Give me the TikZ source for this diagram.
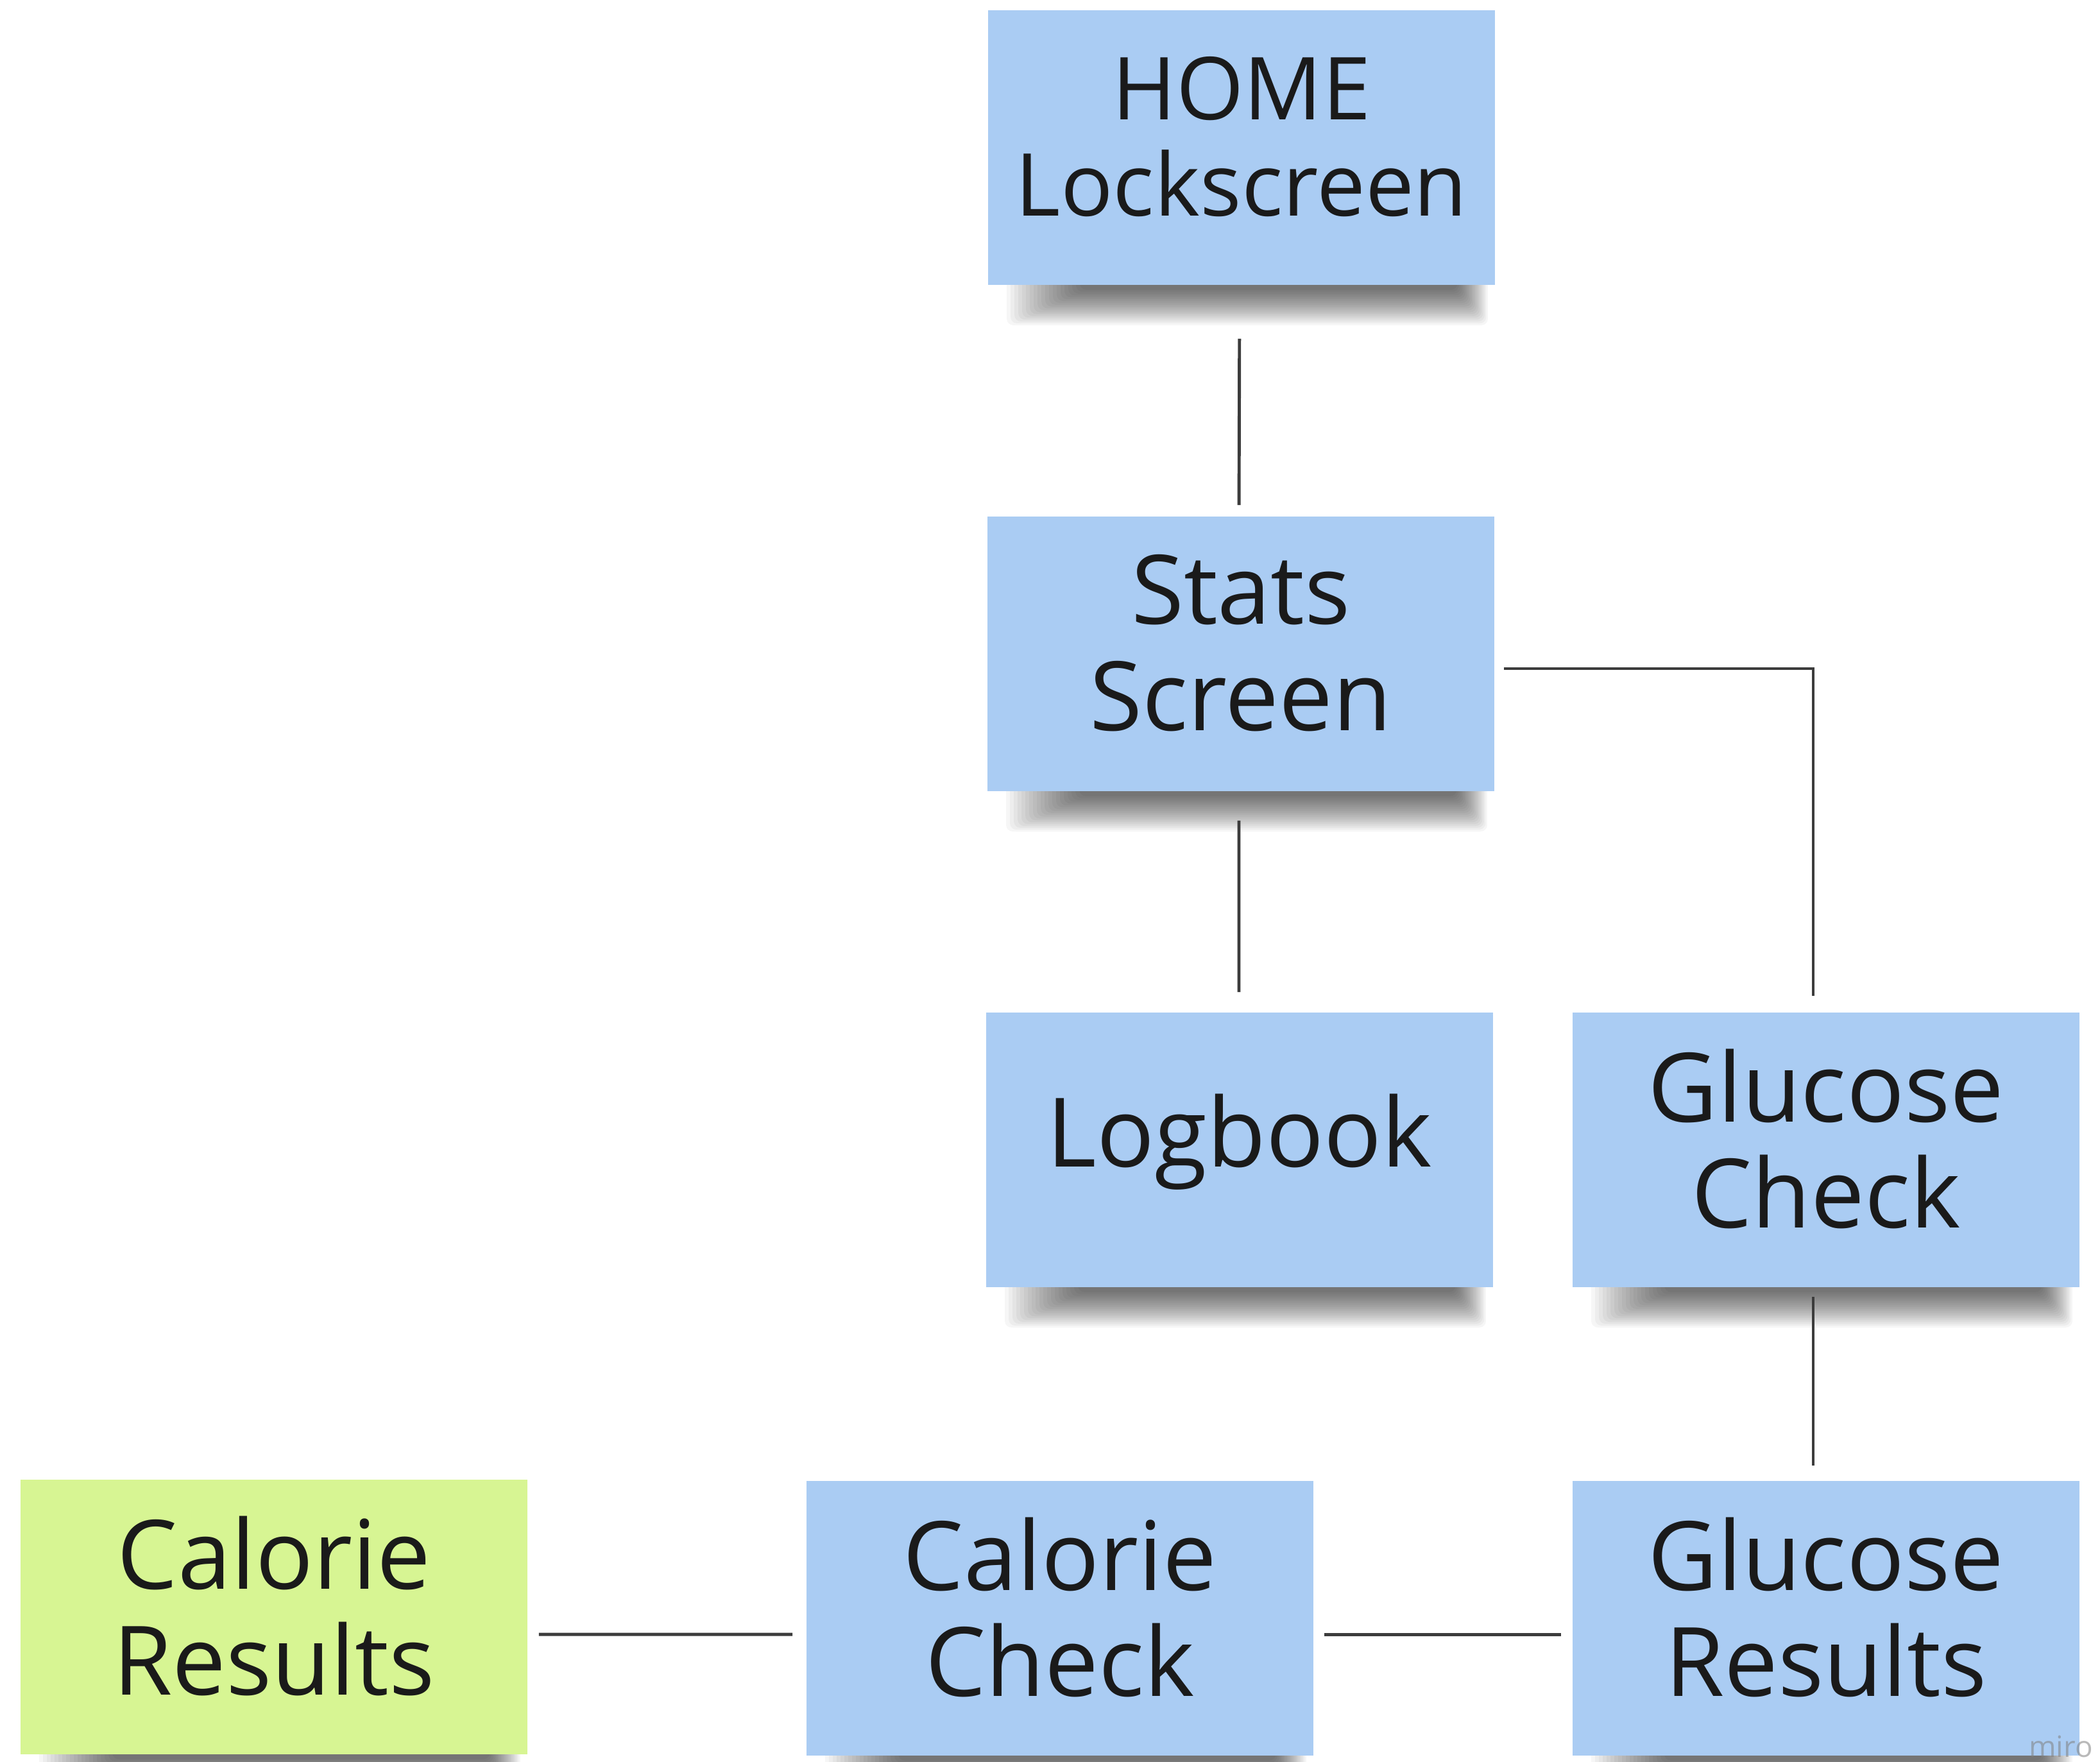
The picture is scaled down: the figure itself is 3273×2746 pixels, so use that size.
\documentclass[tikz,border=0pt]{standalone}
\usepackage{fontspec}
\setmainfont{Open Sans}
\usetikzlibrary{calc,backgrounds}
\definecolor{stickyblue}{HTML}{AACCF3}
\definecolor{stickygreen}{HTML}{D7F593}
\definecolor{linegray}{HTML}{3C3C3C}
\definecolor{txtcol}{HTML}{1A1A1A}
\newcommand\stickyshadow[1]{%
  \begin{pgfonlayer}{background}
    \foreach \i in {0,...,19}{%
      \fill[black, opacity=0.035, rounded corners=0.1cm]
        ($(#1.south west)+(30+\i*6,-12)$) rectangle ($(#1.south east)+(-12-\i*2.5,62-\i*2.9)$);
    }
  \end{pgfonlayer}}
\begin{document}
\begin{tikzpicture}[x=0.01cm, y=-0.01cm,
  sticky/.style={rectangle, fill=stickyblue, minimum width=7.9cm, minimum height=4.28cm, inner sep=0pt},
  greensticky/.style={sticky, fill=stickygreen},
  label/.style={align=center, text=txtcol, inner sep=0pt, font=\fontsize{42.5}{47}\selectfont},
  smalllabel/.style={label, font=\fontsize{38.5}{42.7}\selectfont},
  conn/.style={draw=linegray, line width=1.4pt}]
\useasboundingbox (0,0) rectangle (3273,2746);
\begin{pgfonlayer}{background}
\fill[white] (0,0) rectangle (3273,2746);
\end{pgfonlayer}

\node[sticky] (home)     at (1935,230)  {};
\node[sticky] (stats)    at (1934,1019) {};
\node[sticky] (logbook)  at (1932,1792) {};
\node[sticky] (gcheck)   at (2846,1792) {};
\node[greensticky] (cresults) at (427,2520)  {};
\node[sticky] (ccheck)   at (1652,2522) {};
\node[sticky] (gresults) at (2846,2522) {};

\node[smalllabel] (home-t)     at ([yshift=0.17cm]home.center)     {HOME\\Lockscreen};
\node[label]      (stats-t)    at ([yshift=0.17cm]stats.center)    {Stats\\Screen};
\node[label]      (logbook-t)  at ([yshift=0.12cm]logbook.center)  {Logbook};
\node[label]      (gcheck-t)   at ([yshift=0.17cm]gcheck.center)   {Glucose\\Check};
\node[label]      (cresults-t) at ([yshift=0.17cm]cresults.center) {Calorie\\Results};
\node[label]      (ccheck-t)   at ([yshift=0.17cm]ccheck.center)   {Calorie\\Check};
\node[label]      (gresults-t) at ([yshift=0.17cm]gresults.center) {Glucose\\Results};

\stickyshadow{home}
\stickyshadow{stats}
\stickyshadow{logbook}
\stickyshadow{gcheck}
\stickyshadow{cresults}
\stickyshadow{ccheck}
\stickyshadow{gresults}

\draw[conn, shorten <=0.83cm, shorten >=0.17cm] ([xshift=-0.03cm]home.south) -- ([xshift=-0.03cm]stats.north);
\draw[conn, shorten <=0.45cm, shorten >=0.31cm] ([xshift=-0.03cm]stats.south) -- ([xshift=-0.01cm]logbook.north);
\draw[conn, shorten <=0.14cm, shorten >=0.25cm] ([yshift=-0.23cm]stats.east) -| ([xshift=-0.2cm]gcheck.north);
\draw[conn, shorten <=0.14cm, shorten >=0.23cm] ([xshift=-0.2cm]gcheck.south) -- ([xshift=-0.2cm]gresults.north);
\draw[conn, shorten <=0.17cm, shorten >=0.16cm] ([yshift=-0.25cm]gresults.west) -- ([yshift=-0.25cm]ccheck.east);
\draw[conn, shorten <=0.21cm, shorten >=0.17cm] ([yshift=-0.25cm]ccheck.west) -- ([yshift=-0.27cm]cresults.east);

\node[anchor=base west, text=gray, opacity=0.55, font=\fontsize{13}{13}\selectfont] (miro) at (3150,2738) {miro};
\end{tikzpicture}
\end{document}
